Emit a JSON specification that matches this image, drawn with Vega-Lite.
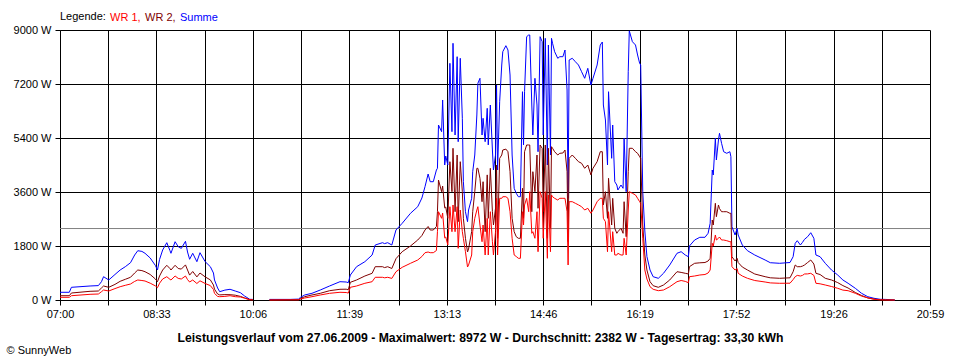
{
  "$schema": "https://vega.github.io/schema/vega-lite/v6.json",
  "width": 870,
  "height": 270,
  "autosize": {"type": "none"},
  "padding": {"left": 60, "top": 30, "right": 30, "bottom": 60},
  "background": "white",
  "config": {
    "view": {"stroke": null},
    "font": "Liberation Sans",
    "axis": {
      "domainColor": "black", "domainWidth": 1,
      "tickColor": "black", "tickWidth": 1,
      "gridColor": "black", "gridOpacity": 1, "gridWidth": 1,
      "labelColor": "black", "titleColor": "black",
      "labelFont": "Liberation Sans", "labelFontSize": 11,
      "titleFont": "Liberation Sans"
    }
  },
  "layer": [
    {
      "data": {"values": [{"Durchschnitt": 2382}]},
      "mark": {"type": "rule", "color": "#808080", "strokeWidth": 1},
      "encoding": {"y": {"field": "Durchschnitt", "type": "quantitative"}}
    },
    {
      "data": {"values": [
        {"t":420,"WR 1":90,"WR 2":143,"Summe":257},
        {"t":429,"WR 1":90,"WR 2":143,"Summe":257},
        {"t":431,"WR 1":143,"WR 2":233,"Summe":423},
        {"t":449,"WR 1":190,"WR 2":290,"Summe":467},
        {"t":457,"WR 1":200,"WR 2":300,"Summe":480},
        {"t":460,"WR 1":277,"WR 2":400,"Summe":610},
        {"t":462,"WR 1":333,"WR 2":467,"Summe":777},
        {"t":467,"WR 1":300,"WR 2":423,"Summe":667},
        {"t":473,"WR 1":380,"WR 2":520,"Summe":850},
        {"t":478,"WR 1":443,"WR 2":623,"Summe":1000},
        {"t":483,"WR 1":490,"WR 2":690,"Summe":1110},
        {"t":488,"WR 1":533,"WR 2":757,"Summe":1243},
        {"t":492,"WR 1":620,"WR 2":900,"Summe":1500},
        {"t":495,"WR 1":667,"WR 2":1000,"Summe":1643},
        {"t":499,"WR 1":650,"WR 2":980,"Summe":1620},
        {"t":502,"WR 1":633,"WR 2":943,"Summe":1557},
        {"t":507,"WR 1":560,"WR 2":850,"Summe":1400},
        {"t":512,"WR 1":470,"WR 2":700,"Summe":1150},
        {"t":514,"WR 1":410,"WR 2":610,"Summe":1000},
        {"t":516,"WR 1":560,"WR 2":800,"Summe":1350},
        {"t":519,"WR 1":700,"WR 2":1000,"Summe":1667},
        {"t":523,"WR 1":777,"WR 2":1157,"Summe":1910},
        {"t":526,"WR 1":690,"WR 2":1050,"Summe":1650},
        {"t":527,"WR 1":667,"WR 2":1000,"Summe":1557},
        {"t":531,"WR 1":800,"WR 2":1157,"Summe":1943},
        {"t":534,"WR 1":720,"WR 2":1050,"Summe":1777},
        {"t":537,"WR 1":700,"WR 2":1030,"Summe":1720},
        {"t":541,"WR 1":800,"WR 2":1170,"Summe":1957},
        {"t":543,"WR 1":680,"WR 2":1000,"Summe":1600},
        {"t":545,"WR 1":600,"WR 2":830,"Summe":1357},
        {"t":548,"WR 1":667,"WR 2":950,"Summe":1557},
        {"t":552,"WR 1":550,"WR 2":770,"Summe":1277},
        {"t":555,"WR 1":640,"WR 2":900,"Summe":1577},
        {"t":560,"WR 1":550,"WR 2":770,"Summe":1277},
        {"t":565,"WR 1":480,"WR 2":670,"Summe":1110},
        {"t":568,"WR 1":350,"WR 2":500,"Summe":900},
        {"t":569,"WR 1":220,"WR 2":360,"Summe":667},
        {"t":572,"WR 1":120,"WR 2":200,"Summe":400},
        {"t":574,"WR 1":110,"WR 2":170,"Summe":277},
        {"t":579,"WR 1":120,"WR 2":180,"Summe":330},
        {"t":584,"WR 1":143,"WR 2":177,"Summe":357},
        {"t":589,"WR 1":110,"WR 2":160,"Summe":300},
        {"t":594,"WR 1":100,"WR 2":120,"Summe":243},
        {"t":598,"WR 1":60,"WR 2":70,"Summe":133},
        {"t":603,"WR 1":10,"WR 2":10,"Summe":23},
        {"t":606,"WR 1":5,"WR 2":5,"Summe":20},
        {"t":613,"WR 1":null,"WR 2":null,"Summe":null},
        {"t":622,"WR 1":0,"WR 2":0,"Summe":20},
        {"t":642,"WR 1":5,"WR 2":5,"Summe":20},
        {"t":650,"WR 1":5,"WR 2":10,"Summe":30},
        {"t":652,"WR 1":30,"WR 2":50,"Summe":90},
        {"t":656,"WR 1":67,"WR 2":110,"Summe":167},
        {"t":663,"WR 1":110,"WR 2":167,"Summe":223},
        {"t":671,"WR 1":167,"WR 2":223,"Summe":333},
        {"t":680,"WR 1":223,"WR 2":310,"Summe":467},
        {"t":690,"WR 1":257,"WR 2":357,"Summe":610},
        {"t":696,"WR 1":250,"WR 2":360,"Summe":600},
        {"t":698,"WR 1":230,"WR 2":340,"Summe":577},
        {"t":700,"WR 1":423,"WR 2":590,"Summe":833},
        {"t":706,"WR 1":467,"WR 2":667,"Summe":1110},
        {"t":714,"WR 1":557,"WR 2":800,"Summe":1277},
        {"t":721,"WR 1":610,"WR 2":890,"Summe":1500},
        {"t":724,"WR 1":757,"WR 2":1110,"Summe":1833},
        {"t":731,"WR 1":757,"WR 2":1110,"Summe":1910},
        {"t":733,"WR 1":740,"WR 2":1080,"Summe":1880},
        {"t":736,"WR 1":757,"WR 2":1110,"Summe":1910},
        {"t":740,"WR 1":720,"WR 2":1050,"Summe":1833},
        {"t":744,"WR 1":943,"WR 2":1377,"Summe":2333},
        {"t":750,"WR 1":1090,"WR 2":1610,"Summe":2557},
        {"t":758,"WR 1":1223,"WR 2":1800,"Summe":2890},
        {"t":765,"WR 1":1333,"WR 2":2000,"Summe":3110},
        {"t":769,"WR 1":1450,"WR 2":2150,"Summe":3400},
        {"t":772,"WR 1":1577,"WR 2":2333,"Summe":3777},
        {"t":775,"WR 1":1600,"WR 2":2450,"Summe":4200},
        {"t":777,"WR 1":1577,"WR 2":2333,"Summe":3943},
        {"t":780,"WR 1":1577,"WR 2":2333,"Summe":3943},
        {"t":783,"WR 1":1650,"WR 2":2450,"Summe":4333},
        {"t":784,"WR 1":2277,"WR 2":2943,"Summe":4390},
        {"t":785,"WR 1":2943,"WR 2":4000,"Summe":5833},
        {"t":788,"WR 1":2723,"WR 2":3610,"Summe":5610},
        {"t":789,"WR 1":2900,"WR 2":3800,"Summe":6667},
        {"t":791,"WR 1":2070,"WR 2":3070,"Summe":4500},
        {"t":792,"WR 1":2100,"WR 2":3100,"Summe":4800},
        {"t":794,"WR 1":1833,"WR 2":2723,"Summe":4500},
        {"t":796,"WR 1":3110,"WR 2":4610,"Summe":7890},
        {"t":798,"WR 1":2277,"WR 2":3610,"Summe":5610},
        {"t":799,"WR 1":3167,"WR 2":5057,"Summe":8557},
        {"t":801,"WR 1":2277,"WR 2":2943,"Summe":5500},
        {"t":803,"WR 1":3110,"WR 2":4833,"Summe":8110},
        {"t":804,"WR 1":1723,"WR 2":2610,"Summe":5277},
        {"t":806,"WR 1":3000,"WR 2":4610,"Summe":8057},
        {"t":808,"WR 1":2277,"WR 2":3610,"Summe":6057},
        {"t":809,"WR 1":2057,"WR 2":2723,"Summe":3943},
        {"t":811,"WR 1":1610,"WR 2":2057,"Summe":2943},
        {"t":813,"WR 1":1100,"WR 2":1600,"Summe":2610},
        {"t":814,"WR 1":1167,"WR 2":1700,"Summe":3000},
        {"t":817,"WR 1":1500,"WR 2":2277,"Summe":3390},
        {"t":818,"WR 1":2277,"WR 2":2943,"Summe":4277},
        {"t":820,"WR 1":2723,"WR 2":3610,"Summe":4833},
        {"t":822,"WR 1":3000,"WR 2":4390,"Summe":6167},
        {"t":823,"WR 1":3110,"WR 2":4390,"Summe":7223},
        {"t":825,"WR 1":2500,"WR 2":4057,"Summe":7390},
        {"t":827,"WR 1":1943,"WR 2":3277,"Summe":5500},
        {"t":828,"WR 1":2500,"WR 2":3943,"Summe":6057},
        {"t":830,"WR 1":1500,"WR 2":2277,"Summe":5277},
        {"t":832,"WR 1":2723,"WR 2":4170,"Summe":6390},
        {"t":833,"WR 1":1500,"WR 2":2723,"Summe":5170},
        {"t":835,"WR 1":2943,"WR 2":4390,"Summe":6500},
        {"t":837,"WR 1":1943,"WR 2":2943,"Summe":5000},
        {"t":838,"WR 1":1500,"WR 2":2500,"Summe":4333},
        {"t":840,"WR 1":2277,"WR 2":3057,"Summe":4833},
        {"t":841,"WR 1":3390,"WR 2":4500,"Summe":7167},
        {"t":842,"WR 1":1500,"WR 2":2057,"Summe":4333},
        {"t":844,"WR 1":3390,"WR 2":4723,"Summe":6610},
        {"t":846,"WR 1":3390,"WR 2":4833,"Summe":7833},
        {"t":847,"WR 1":3443,"WR 2":5000,"Summe":8277},
        {"t":850,"WR 1":3443,"WR 2":5030,"Summe":8477},
        {"t":852,"WR 1":3390,"WR 2":4943,"Summe":8333},
        {"t":854,"WR 1":2943,"WR 2":4277,"Summe":7500},
        {"t":856,"WR 1":2057,"WR 2":2723,"Summe":4833},
        {"t":858,"WR 1":1500,"WR 2":2277,"Summe":3723},
        {"t":860,"WR 1":1450,"WR 2":2110,"Summe":3557},
        {"t":862,"WR 1":1390,"WR 2":2057,"Summe":3443},
        {"t":864,"WR 1":1390,"WR 2":2057,"Summe":3443},
        {"t":866,"WR 1":2943,"WR 2":3723,"Summe":6943},
        {"t":867,"WR 1":2500,"WR 2":2723,"Summe":5170},
        {"t":868,"WR 1":3167,"WR 2":4943,"Summe":6943},
        {"t":870,"WR 1":3390,"WR 2":5167,"Summe":8777},
        {"t":872,"WR 1":2943,"WR 2":5167,"Summe":8833},
        {"t":873,"WR 1":3610,"WR 2":5167,"Summe":8833},
        {"t":875,"WR 1":2223,"WR 2":2943,"Summe":6500},
        {"t":876,"WR 1":2277,"WR 2":4277,"Summe":5500},
        {"t":878,"WR 1":2057,"WR 2":3610,"Summe":7390},
        {"t":880,"WR 1":2943,"WR 2":4833,"Summe":6500},
        {"t":881,"WR 1":1610,"WR 2":3057,"Summe":4943},
        {"t":883,"WR 1":3610,"WR 2":5167,"Summe":8777},
        {"t":885,"WR 1":3390,"WR 2":5057,"Summe":8610},
        {"t":886,"WR 1":2057,"WR 2":2943,"Summe":5500},
        {"t":888,"WR 1":3610,"WR 2":5167,"Summe":8723},
        {"t":890,"WR 1":1390,"WR 2":2057,"Summe":4500},
        {"t":891,"WR 1":3500,"WR 2":5057,"Summe":8500},
        {"t":893,"WR 1":1610,"WR 2":2390,"Summe":4833},
        {"t":894,"WR 1":3500,"WR 2":5110,"Summe":8723},
        {"t":895,"WR 1":3443,"WR 2":5057,"Summe":8557},
        {"t":897,"WR 1":3390,"WR 2":4943,"Summe":8277},
        {"t":900,"WR 1":3333,"WR 2":4833,"Summe":8057},
        {"t":902,"WR 1":3390,"WR 2":4890,"Summe":8110},
        {"t":905,"WR 1":3390,"WR 2":4900,"Summe":8110},
        {"t":907,"WR 1":3390,"WR 2":5000,"Summe":8333},
        {"t":909,"WR 1":2943,"WR 2":4277,"Summe":7000},
        {"t":910,"WR 1":1167,"WR 2":1943,"Summe":3390},
        {"t":911,"WR 1":3277,"WR 2":4723,"Summe":8000},
        {"t":914,"WR 1":3277,"WR 2":4833,"Summe":8057},
        {"t":917,"WR 1":3223,"WR 2":4723,"Summe":7943},
        {"t":920,"WR 1":3170,"WR 2":4610,"Summe":7833},
        {"t":923,"WR 1":3110,"WR 2":4557,"Summe":7610},
        {"t":926,"WR 1":3000,"WR 2":4390,"Summe":7390},
        {"t":929,"WR 1":3057,"WR 2":4500,"Summe":7723},
        {"t":932,"WR 1":2890,"WR 2":4170,"Summe":7167},
        {"t":934,"WR 1":3000,"WR 2":4390,"Summe":7390},
        {"t":938,"WR 1":3277,"WR 2":4610,"Summe":7833},
        {"t":941,"WR 1":3390,"WR 2":4943,"Summe":8500},
        {"t":943,"WR 1":3390,"WR 2":4943,"Summe":8600},
        {"t":944,"WR 1":2723,"WR 2":3170,"Summe":6500},
        {"t":946,"WR 1":2610,"WR 2":3610,"Summe":6000},
        {"t":948,"WR 1":1610,"WR 2":2723,"Summe":4500},
        {"t":949,"WR 1":2943,"WR 2":4057,"Summe":6943},
        {"t":952,"WR 1":1610,"WR 2":2500,"Summe":4723},
        {"t":953,"WR 1":2277,"WR 2":3390,"Summe":5833},
        {"t":955,"WR 1":1500,"WR 2":2390,"Summe":3943},
        {"t":957,"WR 1":1500,"WR 2":2223,"Summe":3833},
        {"t":958,"WR 1":1557,"WR 2":2277,"Summe":3667},
        {"t":961,"WR 1":1500,"WR 2":2390,"Summe":3833},
        {"t":963,"WR 1":1500,"WR 2":2223,"Summe":3723},
        {"t":964,"WR 1":2057,"WR 2":3277,"Summe":5390},
        {"t":966,"WR 1":1500,"WR 2":2110,"Summe":3610},
        {"t":968,"WR 1":3000,"WR 2":4277,"Summe":7610},
        {"t":969,"WR 1":3610,"WR 2":5057,"Summe":8972},
        {"t":972,"WR 1":3557,"WR 2":5057,"Summe":8610},
        {"t":975,"WR 1":3500,"WR 2":4943,"Summe":8500},
        {"t":977,"WR 1":3390,"WR 2":4890,"Summe":8167},
        {"t":979,"WR 1":3277,"WR 2":4777,"Summe":7890},
        {"t":980,"WR 1":3223,"WR 2":4723,"Summe":7833},
        {"t":982,"WR 1":2057,"WR 2":2500,"Summe":3610},
        {"t":984,"WR 1":1000,"WR 2":1500,"Summe":2300},
        {"t":986,"WR 1":700,"WR 2":1000,"Summe":1450},
        {"t":989,"WR 1":443,"WR 2":610,"Summe":1000},
        {"t":992,"WR 1":357,"WR 2":477,"Summe":777},
        {"t":997,"WR 1":310,"WR 2":423,"Summe":723},
        {"t":1002,"WR 1":333,"WR 2":500,"Summe":890},
        {"t":1008,"WR 1":443,"WR 2":667,"Summe":1167},
        {"t":1015,"WR 1":610,"WR 2":943,"Summe":1557},
        {"t":1019,"WR 1":650,"WR 2":920,"Summe":1610},
        {"t":1023,"WR 1":620,"WR 2":890,"Summe":1500},
        {"t":1026,"WR 1":577,"WR 2":867,"Summe":1443},
        {"t":1027,"WR 1":777,"WR 2":1110,"Summe":1800},
        {"t":1032,"WR 1":800,"WR 2":1223,"Summe":2000},
        {"t":1037,"WR 1":833,"WR 2":1240,"Summe":2090},
        {"t":1042,"WR 1":850,"WR 2":1250,"Summe":2090},
        {"t":1045,"WR 1":900,"WR 2":1300,"Summe":2223},
        {"t":1047,"WR 1":1000,"WR 2":1390,"Summe":2557},
        {"t":1049,"WR 1":1890,"WR 2":2667,"Summe":4333},
        {"t":1050,"WR 1":1800,"WR 2":2500,"Summe":4167},
        {"t":1052,"WR 1":2167,"WR 2":3223,"Summe":5390},
        {"t":1053,"WR 1":2000,"WR 2":2777,"Summe":4667},
        {"t":1055,"WR 1":2057,"WR 2":3167,"Summe":5333},
        {"t":1056,"WR 1":2100,"WR 2":3050,"Summe":5557},
        {"t":1058,"WR 1":2000,"WR 2":2943,"Summe":5223},
        {"t":1060,"WR 1":2000,"WR 2":2943,"Summe":4943},
        {"t":1063,"WR 1":1977,"WR 2":2943,"Summe":4890},
        {"t":1066,"WR 1":1943,"WR 2":2890,"Summe":4943},
        {"t":1067,"WR 1":1943,"WR 2":2890,"Summe":4777},
        {"t":1068,"WR 1":1110,"WR 2":1443,"Summe":2443},
        {"t":1071,"WR 1":1000,"WR 2":1300,"Summe":2167},
        {"t":1073,"WR 1":1050,"WR 2":1390,"Summe":2390},
        {"t":1074,"WR 1":890,"WR 2":1250,"Summe":2167},
        {"t":1078,"WR 1":800,"WR 2":1100,"Summe":1833},
        {"t":1083,"WR 1":723,"WR 2":1000,"Summe":1643},
        {"t":1090,"WR 1":650,"WR 2":867,"Summe":1500},
        {"t":1100,"WR 1":600,"WR 2":777,"Summe":1333},
        {"t":1105,"WR 1":570,"WR 2":740,"Summe":1243},
        {"t":1114,"WR 1":557,"WR 2":723,"Summe":1223},
        {"t":1124,"WR 1":560,"WR 2":740,"Summe":1250},
        {"t":1127,"WR 1":680,"WR 2":943,"Summe":1443},
        {"t":1129,"WR 1":777,"WR 2":1167,"Summe":1890},
        {"t":1131,"WR 1":820,"WR 2":1110,"Summe":1977},
        {"t":1134,"WR 1":800,"WR 2":1110,"Summe":1833},
        {"t":1136,"WR 1":820,"WR 2":1130,"Summe":1920},
        {"t":1138,"WR 1":867,"WR 2":1167,"Summe":2023},
        {"t":1141,"WR 1":870,"WR 2":1250,"Summe":2110},
        {"t":1144,"WR 1":890,"WR 2":1333,"Summe":2243},
        {"t":1147,"WR 1":820,"WR 2":1200,"Summe":2057},
        {"t":1149,"WR 1":557,"WR 2":890,"Summe":1500},
        {"t":1153,"WR 1":540,"WR 2":850,"Summe":1443},
        {"t":1158,"WR 1":500,"WR 2":723,"Summe":1223},
        {"t":1164,"WR 1":450,"WR 2":667,"Summe":1000},
        {"t":1170,"WR 1":390,"WR 2":580,"Summe":833},
        {"t":1175,"WR 1":330,"WR 2":480,"Summe":667},
        {"t":1180,"WR 1":310,"WR 2":400,"Summe":557},
        {"t":1187,"WR 1":223,"WR 2":250,"Summe":390},
        {"t":1193,"WR 1":130,"WR 2":150,"Summe":223},
        {"t":1199,"WR 1":70,"WR 2":70,"Summe":110},
        {"t":1205,"WR 1":23,"WR 2":30,"Summe":57},
        {"t":1211,"WR 1":5,"WR 2":10,"Summe":23},
        {"t":1216,"WR 1":0,"WR 2":5,"Summe":20},
        {"t":1225,"WR 1":0,"WR 2":0,"Summe":0}
      ]},
      "transform": [{"fold": ["Summe", "WR 2", "WR 1"], "as": ["Serie", "Leistung"]}],
      "mark": {"type": "line", "strokeWidth": 1, "invalid": "break-paths-filter-domains"},
      "encoding": {
        "x": {
          "field": "t", "type": "quantitative",
          "scale": {"domain": [420, 1259], "nice": false, "zero": false},
          "axis": {
            "values": [420, 466.5, 513, 559.5, 606, 652.5, 699, 746.5, 793, 839.5, 886, 932.5, 979, 1025.5, 1072, 1119.5, 1166, 1212.5, 1259],
            "labelExpr": "datum.value % 1 == 0 ? timeFormat(datetime(2009, 5, 27, floor(datum.value / 60), datum.value % 60), '%H:%M') : ''",
            "grid": true, "tickSize": 5, "labelPadding": 3,
            "labelOverlap": false, "labelFlush": false, "labelBound": false,
            "title": "Leistungsverlauf vom 27.06.2009 - Maximalwert: 8972 W - Durchschnitt: 2382 W - Tagesertrag: 33,30 kWh",
            "titleX": 420, "titleY": 41, "titleAlign": "center", "titleBaseline": "alphabetic",
            "titleFontWeight": "bold", "titleFontSize": 12.2
          }
        },
        "y": {
          "field": "Leistung", "type": "quantitative",
          "scale": {"domain": [0, 9000], "nice": false},
          "axis": {
            "values": [0, 1800, 3600, 5400, 7200, 9000],
            "labelExpr": "datum.value + ' W'",
            "grid": true, "tickSize": 5, "labelPadding": 4, "labelOverlap": false,
            "title": "© SunnyWeb", "titleAngle": 0, "titleX": -54, "titleY": 323,
            "titleAlign": "left", "titleBaseline": "alphabetic",
            "titleFontWeight": "normal", "titleFontSize": 11
          }
        },
        "color": {
          "field": "Serie", "type": "nominal",
          "scale": {"domain": ["WR 1", "WR 2", "Summe"], "range": ["#ff0000", "#800000", "#0000ff"]},
          "legend": {
            "orient": "none", "legendX": 0, "legendY": -18, "direction": "horizontal",
            "title": "Legende:", "titleOrient": "left", "titleFontSize": 11, "titleFontWeight": "normal",
            "titleColor": "black", "titlePadding": 3, "titleFont": "Liberation Sans",
            "labelFont": "Liberation Sans", "labelFontSize": 11,
            "symbolType": "circle", "symbolSize": 0, "symbolStrokeWidth": 0, "symbolOpacity": 0,
            "labelOffset": -10, "columnPadding": 3,
            "labelExpr": "datum.label == 'Summe' ? datum.label : datum.label + ','",
            "labelColor": {"expr": "datum.value == 'WR 1' ? '#ff0000' : datum.value == 'WR 2' ? '#800000' : '#0000ff'"}
          }
        }
      }
    }
  ]
}
